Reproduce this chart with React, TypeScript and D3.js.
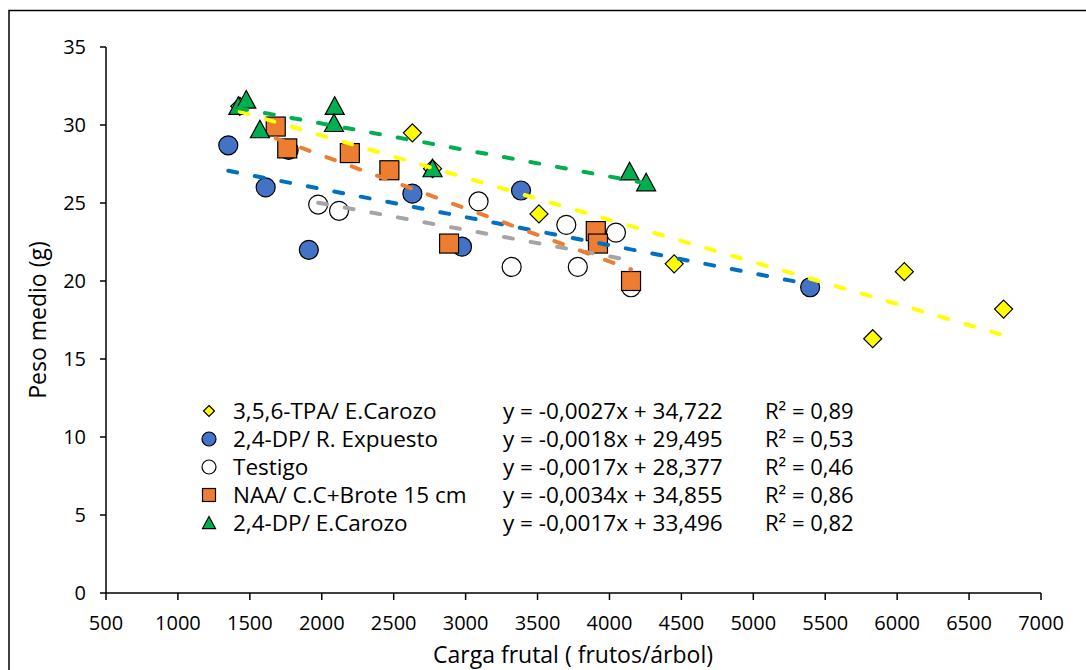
import React from "react";
import * as d3 from "d3";

// ---- data ----
const xTicks = [500, 1000, 1500, 2000, 2500, 3000, 3500, 4000, 4500, 5000, 5500, 6000, 6500, 7000];
const yTicks = [0, 5, 10, 15, 20, 25, 30, 35];

const tpaX = [1430, 2630, 2770, 3510, 4450, 5830, 6050, 6740];
const tpaY = [31.2, 29.5, 27.2, 24.3, 21.1, 16.3, 20.6, 18.2];

const dpRX = [1350, 1610, 1770, 1910, 2630, 2975, 3385, 5395];
const dpRY = [28.7, 26.0, 28.4, 22.0, 25.6, 22.2, 25.8, 19.6];

const testX = [1975, 2120, 3090, 3320, 3700, 3780, 4045, 4150];
const testY = [24.9, 24.5, 25.1, 20.9, 23.6, 20.9, 23.1, 19.6];

const naaX = [1680, 1760, 2195, 2470, 2885, 3905, 3920, 4150];
const naaY = [29.9, 28.5, 28.2, 27.1, 22.4, 23.2, 22.4, 20.0];

const dpEX = [1420, 1475, 1570, 2090, 2085, 2770, 4140, 4255];
const dpEY = [31.2, 31.6, 29.7, 31.2, 30.1, 27.2, 27.0, 26.3];

const seriesNames = ["3,5,6-TPA/ E.Carozo", "2,4-DP/ R. Expuesto", "Testigo", "NAA/ C.C+Brote 15 cm", "2,4-DP/ E.Carozo"];
const slopes = [-0.0027, -0.0018, -0.0017, -0.0034, -0.0017];
const intercepts = [34.722, 29.495, 28.377, 34.855, 33.496];
const eqLabels = ["y = -0,0027x + 34,722", "y = -0,0018x + 29,495", "y = -0,0017x + 28,377", "y = -0,0034x + 34,855", "y = -0,0017x + 33,496"];
const r2Labels = ["0,89", "0,53", "0,46", "0,86", "0,82"];

const markerFill = ["#FFFF00", "#4472C4", "#FFFFFF", "#ED7D31", "#00B050"];
const lineColor = ["#FFFF00", "#0070C0", "#A5A5A5", "#ED7D31", "#00B050"];
const shapes = ["diamond", "circle", "circle", "square", "triangle"];

const FONT = "'Open Sans', 'Noto Sans', sans-serif";

function Marker({ shape, cx, cy, fill, s }: { shape: string; cx: number; cy: number; fill: string; s: number }) {
  const common = { fill, stroke: "#000", strokeWidth: 1.2 };
  if (shape === "circle") return <circle cx={cx} cy={cy} r={s / 2} {...common} />;
  if (shape === "square") return <rect x={cx - s / 2} y={cy - s / 2} width={s} height={s} {...common} />;
  if (shape === "diamond") {
    const h = s / 2;
    return <polygon points={`${cx},${cy - h} ${cx + h},${cy} ${cx},${cy + h} ${cx - h},${cy}`} {...common} />;
  }
  const h = s / 2;
  return <polygon points={`${cx},${cy - h} ${cx + h},${cy + h * 0.85} ${cx - h},${cy + h * 0.85}`} {...common} />;
}

export default function App() {
  const W = 1086, H = 670;
  const x = d3.scaleLinear().domain([500, 7000]).range([106, 1041]);
  const y = d3.scaleLinear().domain([0, 35]).range([593, 47]);

  const xs = [tpaX, dpRX, testX, naaX, dpEX];
  const ys = [tpaY, dpRY, testY, naaY, dpEY];
  const sizes = [18, 19, 19, 19, 19];
  const legSizes = [11, 14, 14, 13, 13];

  return (
    <svg width={W} height={H} style={{ position: "absolute", left: 0, top: 0, background: "#fff" }} fontFamily={FONT}>
      <rect x={0} y={0} width={W} height={H} fill="#fff" />
      <rect x={9} y={10.5} width={1200} height={800} fill="none" stroke="#000" strokeWidth={1.5} />

      {/* y axis */}
      <line x1={106} x2={106} y1={y(35)} y2={y(0)} stroke="#000" strokeWidth={1.5} />
      {yTicks.map((t) => (
        <g key={"y" + t}>
          <line x1={100} x2={106} y1={y(t)} y2={y(t)} stroke="#000" strokeWidth={1.5} />
          <text x={86} y={y(t)} dy="0.35em" textAnchor="end" fontSize={20} fill="#000">{t}</text>
        </g>
      ))}
      {/* x axis */}
      <line x1={x(500)} x2={x(7000)} y1={593} y2={593} stroke="#000" strokeWidth={1.5} />
      {xTicks.map((t) => (
        <g key={"x" + t}>
          <line x1={x(t)} x2={x(t)} y1={593} y2={600} stroke="#000" strokeWidth={1.5} />
          <text x={x(t)} y={630} textAnchor="middle" fontSize={20} fill="#000">{t}</text>
        </g>
      ))}

      <text x={573} y={663} textAnchor="middle" fontSize={23} fill="#000">Carga frutal ( frutos/árbol)</text>
      <text transform={`translate(46,320) rotate(-90)`} textAnchor="middle" fontSize={23} fill="#000">Peso medio (g)</text>

      {/* markers */}
      {xs.map((sx, si) => (
        <g key={"s" + si}>
          {sx.map((vx, i) => (
            <Marker key={i} shape={shapes[si]} cx={x(vx)} cy={y(ys[si][i])} fill={markerFill[si]} s={sizes[si]} />
          ))}
        </g>
      ))}

      {/* trendlines */}
      {xs.map((sx, si) => {
        const x0 = d3.min(sx) as number;
        const x1 = d3.max(sx) as number;
        const pts: [number, number][] = [x0, x1].map((v) => [x(v), y(slopes[si] * v + intercepts[si])]);
        const path = d3.line()(pts) as string;
        return (
          <path key={"t" + si} d={path} fill="none" stroke={lineColor[si]} strokeWidth={4} strokeDasharray="9 18" strokeLinecap="round" />
        );
      })}

      {/* legend */}
      {seriesNames.map((n, i) => {
        const ly = 411 + i * 28;
        return (
          <g key={"l" + i}>
            <Marker shape={shapes[i]} cx={209} cy={ly} fill={markerFill[i]} s={legSizes[i]} />
            <text x={233} y={ly} dy="0.35em" fontSize={22.5} fill="#000">{n}</text>
            <text x={503} y={ly} dy="0.35em" fontSize={22.5} fill="#000">{eqLabels[i]}</text>
            <text x={765} y={ly} dy="0.35em" fontSize={22} fill="#000">R² = {r2Labels[i]}</text>
          </g>
        );
      })}
    </svg>
  );
}
